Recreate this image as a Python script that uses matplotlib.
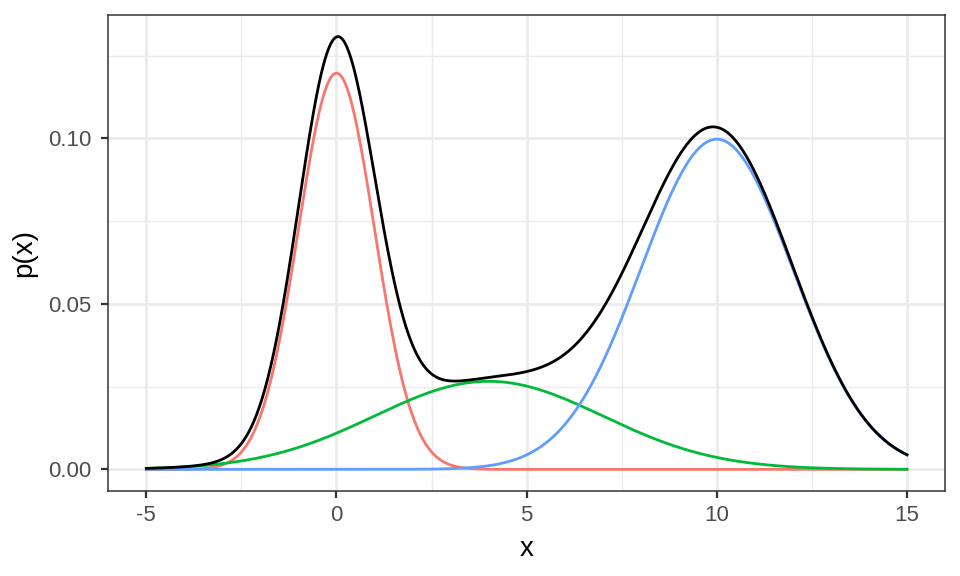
import numpy as np
from matplotlib import pyplot as plt
from matplotlib.ticker import FixedLocator, FormatStrFormatter

plt.rcParams['font.family'] = ['Liberation Sans', 'DejaVu Sans']
plt.rcParams['axes.unicode_minus'] = False

# mixture components: weight, mean, sd
weights = [0.3, 0.2, 0.5]
means = [0.0, 4.0, 10.0]
sds = [1.0, 3.0, 2.0]
colors = ['#F8766D', '#00BA38', '#619CFF']

x_min, x_max = -5, 15
x = np.linspace(x_min, x_max, 801)


def dnorm(x, mu, sd):
    return np.exp(-0.5 * ((x - mu) / sd) ** 2) / (sd * np.sqrt(2 * np.pi))


comps = [w * dnorm(x, m, s) for w, m, s in zip(weights, means, sds)]
total = sum(comps)

fig = plt.figure(figsize=(9.6, 5.76), dpi=100)
ax = fig.add_axes([0.1128, 1 - 491 / 576, 0.8716, 476 / 576])

for c, col in zip(comps, colors):
    ax.plot(x, c, color=col, lw=2.0, zorder=3)
ax.plot(x, total, color='black', lw=2.0, zorder=4)

ax.set_xlim(-6, 16)
ymax = total.max()
ax.set_ylim(-0.05 * ymax, 1.05 * ymax)

ax.xaxis.set_major_locator(FixedLocator([-5, 0, 5, 10, 15]))
ax.xaxis.set_minor_locator(FixedLocator([-2.5, 2.5, 7.5, 12.5]))
ax.yaxis.set_major_locator(FixedLocator([0.0, 0.05, 0.10]))
ax.yaxis.set_minor_locator(FixedLocator([0.025, 0.075, 0.125]))
ax.yaxis.set_major_formatter(FormatStrFormatter('%.2f'))

ax.grid(which='major', color='#EBEBEB', lw=2.0, zorder=0)
ax.grid(which='minor', color='#EBEBEB', lw=1.0, zorder=0)
ax.set_axisbelow(True)

for sp in ax.spines.values():
    sp.set_color('#333333')
    sp.set_linewidth(1.1)

ax.tick_params(which='major', length=5, color='#333333', labelcolor='#4D4D4D',
               labelsize=16, width=1.6)
ax.tick_params(axis='x', which='major', pad=5)
ax.tick_params(axis='y', which='major', pad=7)
ax.tick_params(which='minor', length=0)

ax.set_xlabel('x', fontsize=20, labelpad=7)
ax.set_ylabel('p(x)', fontsize=20, labelpad=8)

plt.savefig('out.png', dpi=100)
